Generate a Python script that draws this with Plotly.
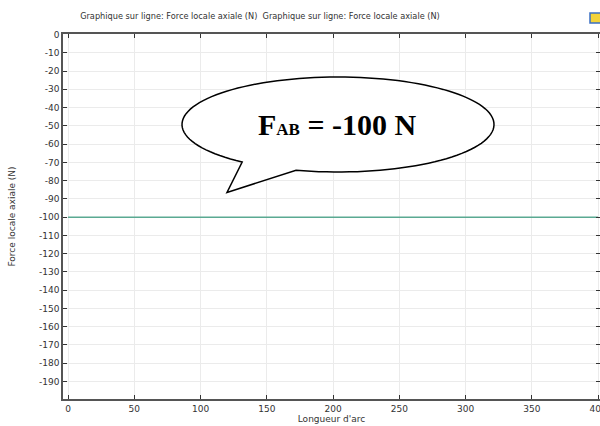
import numpy as np
import plotly.graph_objects as go

# Data
arc_length = [0, 400]
axial_force = [-100, -100]
x_ticks = [0, 50, 100, 150, 200, 250, 300, 350, 400]
y_ticks = list(range(0, -200, -10))
y_tick_text = [str(v) if v == 0 else "-" + str(abs(v)) for v in y_ticks]

W, H = 600, 426
L, R, T, B = 63, 0, 34, 27
xr = [-3.8, 401.5]
yr = [-199.6, 0.3]

def px2data(px, py):
    x = xr[0] + (px - L) / (W - L - R) * (xr[1] - xr[0])
    y = yr[1] - (py - T) / (H - T - B) * (yr[1] - yr[0])
    return x, y

fig = go.Figure()
fig.add_trace(go.Scatter(x=arc_length, y=axial_force, mode="lines",
                         line=dict(color="#5aa992", width=1.5), showlegend=False,
                         hoverinfo="skip"))

# speech bubble (pixel-designed, converted to data coords)
cx, cy, rx, ry = 338, 124.5, 156, 47.5
t0, t1 = np.deg2rad(127.9), np.deg2rad(105.6 + 360)
ts = np.linspace(t0, t1, 120)
pts = [(cx + rx * np.cos(t), cy + ry * np.sin(t)) for t in ts]
pts.append((227, 192.5))
d = []
for i, (px, py) in enumerate(pts):
    x, y = px2data(px, py)
    d.append(("M" if i == 0 else "L") + f"{x:.3f},{y:.3f}")
path = " ".join(d) + " Z"
fig.add_shape(type="path", path=path, xref="x", yref="y",
              line=dict(color="black", width=1.5), fillcolor="white", layer="above")

bx, by = px2data(337, 124)
fig.add_annotation(x=bx, y=by, xref="x", yref="y", showarrow=False,
                   text="<b>F<span style='font-size:17px'>AB</span> = -100 N</b>",
                   font=dict(family="Liberation Serif", size=30, color="black"))

# small icon top-right
fig.add_shape(type="rect", xref="paper", yref="paper",
              x0=(590 - L) / (W - L - R), x1=(601 - L) / (W - L - R),
              y0=1 + (T - 23) / (H - T - B), y1=1 + (T - 13) / (H - T - B),
              line=dict(color="#3a6fc4", width=1.5), fillcolor="#f3d33a")

fig.update_layout(
    width=W, height=H,
    margin=dict(l=L, r=R, t=T, b=B, autoexpand=False),
    paper_bgcolor="white", plot_bgcolor="white",
    font=dict(family="DejaVu Sans", size=9, color="#333333"),
    title=dict(text="Graphique sur ligne: Force locale axiale (N)  Graphique sur ligne: Force locale axiale (N)",
               x=260 / W, xanchor="center", y=1 - 16 / H, yanchor="middle",
               font=dict(size=8.2, color="#333333")),
    xaxis=dict(range=xr, tickvals=x_ticks, ticks="inside", ticklen=4, tickcolor="#333",
               ticklabeloverflow="allow", automargin=False,
               showline=True, linecolor="#555", linewidth=1.5, mirror="ticks",
               showgrid=True, gridcolor="#ebebeb", gridwidth=1, zeroline=False,
               title=dict(text="Longueur d'arc", standoff=2, font=dict(size=9))),
    yaxis=dict(range=yr, tickvals=y_ticks, ticktext=y_tick_text, ticks="inside",
               ticklen=4, tickcolor="#333", automargin=False,
               showline=True, linecolor="#555", linewidth=1.5, mirror="ticks",
               showgrid=True, gridcolor="#ebebeb", gridwidth=1, zeroline=False,
               title=dict(text="Force locale axiale (N)", standoff=22, font=dict(size=9))),
)

fig.write_html("out.html")
